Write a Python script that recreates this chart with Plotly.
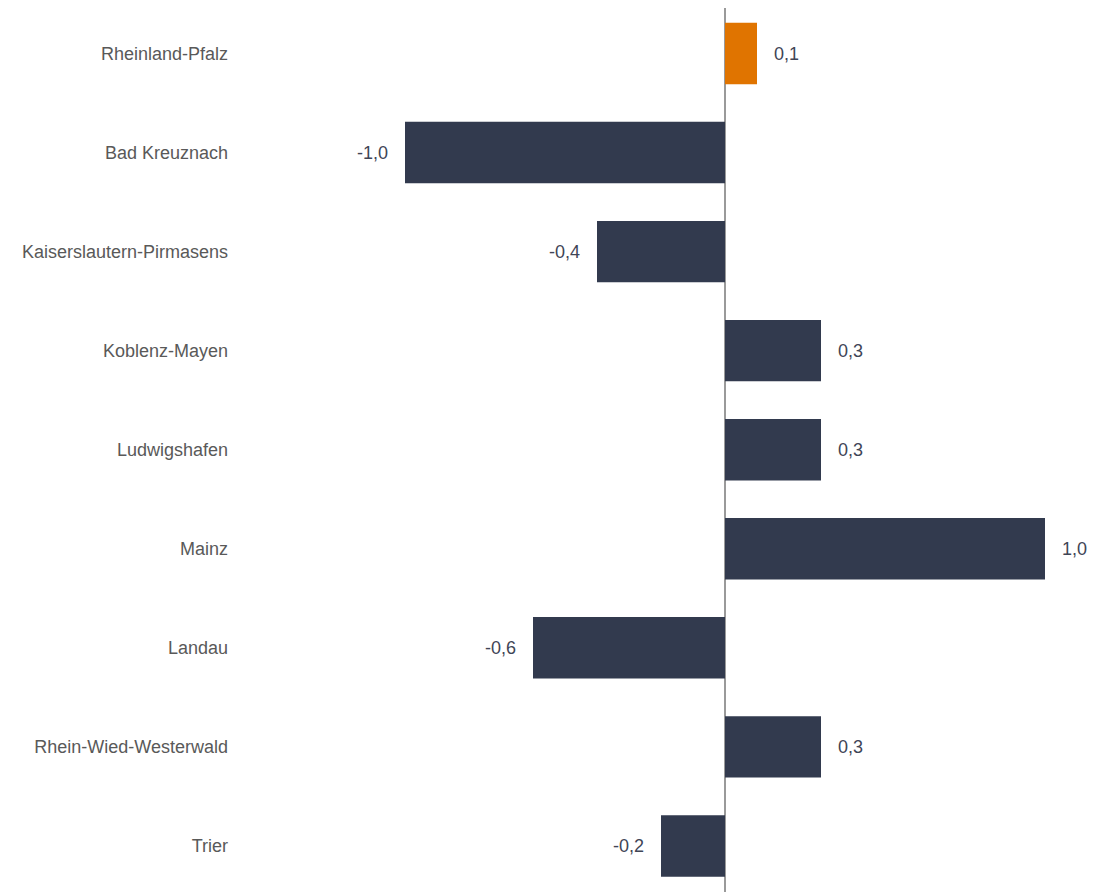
import plotly.graph_objects as go

categories = ["Rheinland-Pfalz", "Bad Kreuznach", "Kaiserslautern-Pirmasens", "Koblenz-Mayen",
              "Ludwigshafen", "Mainz", "Landau", "Rhein-Wied-Westerwald", "Trier"]
values = [0.1, -1.0, -0.4, 0.3, 0.3, 1.0, -0.6, 0.3, -0.2]
bar_colors = ["#e07400"] + ["#323a4e"] * 8

fig = go.Figure()
fig.add_trace(go.Bar(
    x=values, y=categories, orientation="h",
    marker=dict(color=bar_colors, line=dict(width=0)),
    width=0.62, hoverinfo="skip",
))

annotations = []
for c, v in zip(categories, values):
    annotations.append(dict(
        x=v, y=c, xref="x", yref="y",
        text=f"{v:.1f}".replace(".", ","),
        showarrow=False,
        xanchor="left" if v >= 0 else "right",
        xshift=15 if v >= 0 else -15,
        font=dict(family="Liberation Sans, Arial", size=18, color="#3f4556"),
    ))

fig.update_layout(
    width=1095, height=884,
    margin=dict(l=231, r=13, t=0, b=0),
    paper_bgcolor="white", plot_bgcolor="white",
    showlegend=False,
    annotations=annotations,
    font=dict(family="Liberation Sans, Arial", size=18, color="#595959"),
    xaxis=dict(range=[-1.51875, 1.140625], showgrid=False, showticklabels=False,
               zeroline=True, zerolinecolor="#9a9a9a", zerolinewidth=1.5, fixedrange=True),
    yaxis=dict(categoryorder="array", categoryarray=categories,
               range=[8.465, -0.4593], showgrid=False, zeroline=False,
               ticks="", ticklabelstandoff=10,
               tickfont=dict(family="Liberation Sans, Arial", size=18, color="#595959")),
)

fig.write_html("out.html")
